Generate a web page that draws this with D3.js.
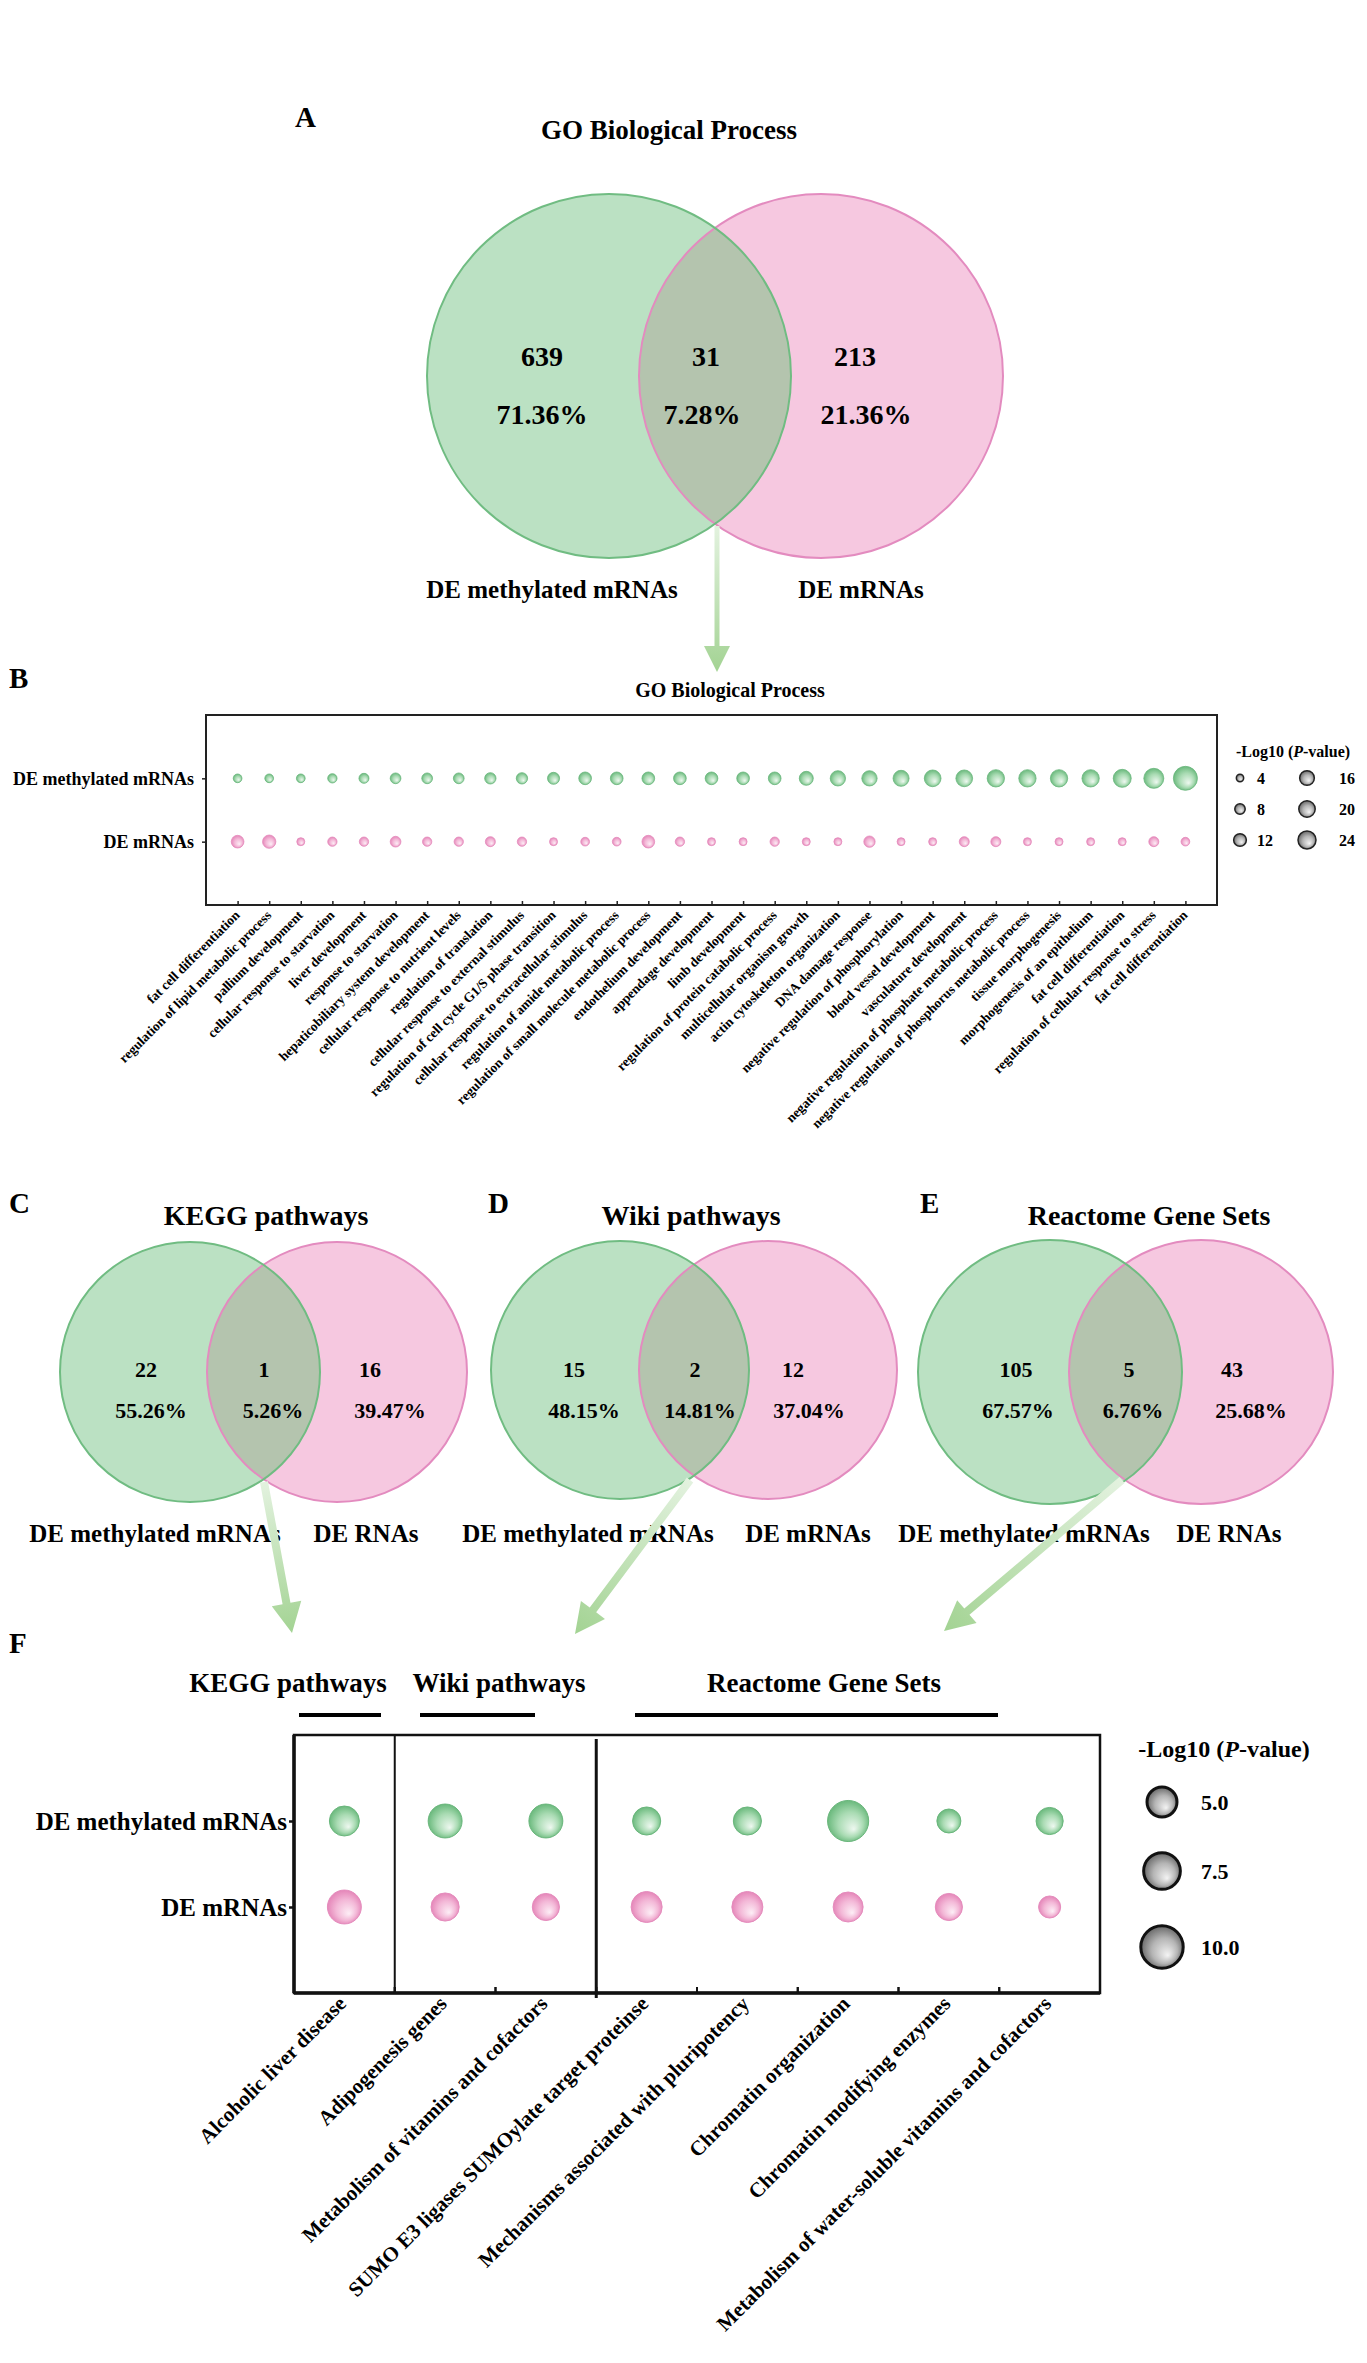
<!DOCTYPE html>
<html>
<head>
<meta charset="utf-8">
<script src="https://cdn.jsdelivr.net/npm/d3@7"></script>
<style>
  body { margin: 0; background: #fff; }
  svg text { font-family: "Liberation Serif", "Times New Roman", serif; font-weight: bold; fill: #000; }
</style>
</head>
<body>
<svg id="chart" width="1367" height="2363"></svg>
<script>
// ---------- data ----------
const rowNames = ["DE methylated mRNAs", "DE mRNAs"];

// Venn counts / percentages (left only, overlap, right only)
const goCounts = [639, 31, 213];
const goPcts = ["71.36%", "7.28%", "21.36%"];
const keggCounts = [22, 1, 16];
const keggPcts = ["55.26%", "5.26%", "39.47%"];
const wikiCounts = [15, 2, 12];
const wikiPcts = ["48.15%", "14.81%", "37.04%"];
const reactomeCounts = [105, 5, 43];
const reactomePcts = ["67.57%", "6.76%", "25.68%"];

// Panel B: 31 shared GO terms, -log10(P) for each row
const goTerms = [
  "fat cell differentiation", "regulation of lipid metabolic process", "pallium development",
  "cellular response to starvation", "liver development", "response to starvation",
  "hepaticobiliary system development", "cellular response to nutrient levels", "regulation of translation",
  "cellular response to external stimulus", "regulation of cell cycle G1/S phase transition",
  "cellular response to extracellular stimulus", "regulation of amide metabolic process",
  "regulation of small molecule metabolic process", "endothelium development", "appendage development",
  "limb development", "regulation of protein catabolic process", "multicellular organism growth",
  "actin cytoskeleton organization", "DNA damage response", "negative regulation of phosphorylation",
  "blood vessel development", "vasculature development", "negative regulation of phosphate metabolic process",
  "negative regulation of phosphorus metabolic process", "tissue morphogenesis", "morphogenesis of an epithelium",
  "fat cell differentiation", "regulation of cellular response to stress", "fat cell differentiation"
];
const goMethyl = [5.6, 5.6, 5.6, 6.4, 7.4, 8.5, 8.5, 8.5, 9.5, 9.5, 10.7, 11.9, 11.9, 11.9, 11.9, 11.9,
  11.9, 11.9, 14.5, 17.3, 17.3, 19.0, 20.7, 20.7, 22.2, 22.2, 22.2, 22.2, 24.0, 29.6, 42.7];
const goMrna = [11.9, 13.1, 4.7, 6.4, 6.4, 8.5, 6.4, 6.4, 7.4, 6.4, 4.7, 5.6, 5.6, 11.9, 6.4, 4.7,
  4.7, 6.4, 4.7, 4.7, 9.5, 4.7, 4.7, 7.4, 7.4, 4.7, 4.7, 4.7, 4.7, 7.4, 5.6];
const goLegendTicks = [4, 8, 12, 16, 20, 24];

// Panel F: shared pathways
const fGroups = ["KEGG pathways", "Wiki pathways", "Reactome Gene Sets"];
const fGroupSizes = [1, 2, 5];
const fTerms = [
  "Alcoholic liver disease", "Adipogenesis genes", "Metabolism of vitamins and cofactors",
  "SUMO E3 ligases SUMOylate target proteinse", "Mechanisms associated with pluripotency",
  "Chromatin organization", "Chromatin modifying enzymes",
  "Metabolism of water-soluble vitamins and cofactors"
];
const fMethyl = [5.0, 6.4, 6.4, 4.4, 4.4, 9.4, 3.2, 4.1];
const fMrna = [6.4, 4.4, 4.1, 5.35, 5.35, 5.0, 4.1, 2.7];
const fLegendTicks = [5.0, 7.5, 10.0];

// ---------- setup ----------
const svg = d3.select("#chart");
svg.append("rect").attr("width", 1367).attr("height", 2363).attr("fill", "#fff");
const defs = svg.append("defs");

function radial(id, c0, c1, c2) {
  const g = defs.append("radialGradient").attr("id", id)
    .attr("cx", 0.5).attr("cy", 0.5).attr("r", 0.55)
    .attr("fx", 0.64).attr("fy", 0.7);
  g.append("stop").attr("offset", "0%").attr("stop-color", c0);
  g.append("stop").attr("offset", "55%").attr("stop-color", c1);
  g.append("stop").attr("offset", "100%").attr("stop-color", c2);
}
radial("gGreen", "#eef8f0", "#a9dbb3", "#5fb373");
radial("gPink", "#fdeef6", "#f3b8d7", "#e27db3");
radial("gGray", "#f4f4f4", "#b4b4b4", "#5a5a5a");

const colors = {
  green: "#bbe1c3", pink: "#f6c8e0", both: "#b4c4ae",
  greenLine: "#70bc82", pinkLine: "#e38bbf"
};

// ---------- Venn diagrams ----------
function drawVenn(c) {
  const g = svg.append("g");
  const clipId = "clip-" + c.id;
  defs.append("clipPath").attr("id", clipId)
    .append("circle").attr("cx", c.cx1).attr("cy", c.cy).attr("r", c.r);

  g.append("circle").attr("cx", c.cx1).attr("cy", c.cy).attr("r", c.r).attr("fill", colors.green);
  g.append("circle").attr("cx", c.cx2).attr("cy", c.cy).attr("r", c.r).attr("fill", colors.pink);
  // overlap
  g.append("circle").attr("cx", c.cx2).attr("cy", c.cy).attr("r", c.r)
    .attr("fill", colors.both).attr("clip-path", `url(#${clipId})`);
  g.append("circle").attr("cx", c.cx2).attr("cy", c.cy).attr("r", c.r)
    .attr("fill", "none").attr("stroke", colors.pinkLine).attr("stroke-width", 2);
  g.append("circle").attr("cx", c.cx1).attr("cy", c.cy).attr("r", c.r)
    .attr("fill", "none").attr("stroke", colors.greenLine).attr("stroke-width", 2);

  g.append("text").attr("x", c.titleX).attr("y", c.titleY).attr("text-anchor", "middle")
    .style("font-size", c.titleFs + "px").text(c.title);
  g.append("text").attr("x", c.letterX).attr("y", c.titleY - 12)
    .style("font-size", "29px").text(c.letter);

  c.counts.forEach((d, i) => {
    g.append("text").attr("x", c.numX[i]).attr("y", c.numY).attr("text-anchor", "middle")
      .style("font-size", c.fs + "px").text(d);
    g.append("text").attr("x", c.pctX[i]).attr("y", c.pctY).attr("text-anchor", "middle")
      .style("font-size", c.fs + "px").text(c.pcts[i]);
  });
  c.labels.forEach((d, i) => {
    g.append("text").attr("x", c.labelX[i]).attr("y", c.labelY).attr("text-anchor", "middle")
      .style("font-size", c.labelFs + "px").text(d);
  });
}

drawVenn({
  id: "go", cx1: 609, cx2: 821, cy: 376, r: 182,
  title: "GO Biological Process", titleX: 669, titleY: 139, titleFs: 27, letter: "A", letterX: 295,
  counts: goCounts, pcts: goPcts, fs: 28,
  numX: [542, 706, 855], numY: 366, pctX: [542, 702, 866], pctY: 424,
  labels: rowNames, labelX: [552, 861], labelY: 598, labelFs: 25
});
drawVenn({
  id: "kegg", cx1: 190, cx2: 337, cy: 1372, r: 130,
  title: "KEGG pathways", titleX: 266, titleY: 1225, titleFs: 28, letter: "C", letterX: 9,
  counts: keggCounts, pcts: keggPcts, fs: 22,
  numX: [146, 264, 370], numY: 1377, pctX: [151, 273, 390], pctY: 1418,
  labels: ["DE methylated mRNAs", "DE RNAs"], labelX: [155, 366], labelY: 1542, labelFs: 25
});
drawVenn({
  id: "wiki", cx1: 620, cx2: 768, cy: 1370, r: 129,
  title: "Wiki pathways", titleX: 691, titleY: 1225, titleFs: 28, letter: "D", letterX: 488,
  counts: wikiCounts, pcts: wikiPcts, fs: 22,
  numX: [574, 695, 793], numY: 1377, pctX: [584, 700, 809], pctY: 1418,
  labels: ["DE methylated mRNAs", "DE mRNAs"], labelX: [588, 808], labelY: 1542, labelFs: 25
});
drawVenn({
  id: "reac", cx1: 1050, cx2: 1201, cy: 1372, r: 132,
  title: "Reactome Gene Sets", titleX: 1149, titleY: 1225, titleFs: 28, letter: "E", letterX: 920,
  counts: reactomeCounts, pcts: reactomePcts, fs: 22,
  numX: [1016, 1129, 1232], numY: 1377, pctX: [1018, 1133, 1251], pctY: 1418,
  labels: ["DE methylated mRNAs", "DE RNAs"], labelX: [1024, 1229], labelY: 1542, labelFs: 25
});

// ---------- arrows ----------
function arrow(id, x1, y1, x2, y2, w, headLen, headW) {
  const grad = defs.append("linearGradient").attr("id", id)
    .attr("gradientUnits", "userSpaceOnUse")
    .attr("x1", x1).attr("y1", y1).attr("x2", x2).attr("y2", y2);
  grad.append("stop").attr("offset", "0%").attr("stop-color", "#e3f2df");
  grad.append("stop").attr("offset", "100%").attr("stop-color", "#a3d393");
  const len = Math.hypot(x2 - x1, y2 - y1);
  const ux = (x2 - x1) / len, uy = (y2 - y1) / len;
  const px = -uy, py = ux;
  const bx = x2 - ux * headLen, by = y2 - uy * headLen;
  const pts = [
    [x1 + px * w / 2, y1 + py * w / 2], [bx + px * w / 2, by + py * w / 2],
    [bx + px * headW, by + py * headW], [x2, y2],
    [bx - px * headW, by - py * headW], [bx - px * w / 2, by - py * w / 2],
    [x1 - px * w / 2, y1 - py * w / 2]
  ];
  svg.append("path").attr("d", d3.line()(pts) + "Z").attr("fill", `url(#${id})`);
}
arrow("arA", 717, 526, 717, 672, 5, 26, 13);
arrow("arC", 264, 1482, 292, 1633, 8, 30, 15);
arrow("arD", 690, 1480, 575, 1634, 8, 30, 15);
arrow("arE", 1122, 1480, 944, 1631, 8, 30, 15);

// ---------- Panel B: GO bubble plot ----------
const bLeft = 206, bRight = 1217, bTop = 715, bBottom = 905;
const xB = d3.scalePoint().domain(d3.range(goTerms.length)).range([bLeft, bRight]).padding(1);
const yB = d3.scalePoint().domain(rowNames).range([bTop, bBottom]).padding(1);
const rB = d3.scaleSqrt().domain([0, 24]).range([0, 9]);

svg.append("text").attr("x", 9).attr("y", 688).style("font-size", "29px").text("B");
svg.append("text").attr("x", 730).attr("y", 697).attr("text-anchor", "middle")
  .style("font-size", "20px").text("GO Biological Process");

svg.append("rect").attr("x", bLeft).attr("y", bTop)
  .attr("width", bRight - bLeft).attr("height", bBottom - bTop)
  .attr("fill", "none").attr("stroke", "#222").attr("stroke-width", 2);

const bxAxis = svg.append("g").attr("transform", `translate(0,${bBottom})`)
  .call(d3.axisBottom(xB).tickSize(-4).tickFormat(""));
bxAxis.select(".domain").remove();
bxAxis.selectAll("line").attr("stroke", "#222").attr("stroke-width", 1.5);

const byAxis = svg.append("g").attr("transform", `translate(${bLeft},0)`)
  .call(d3.axisLeft(yB).tickSize(4).tickFormat(""));
byAxis.select(".domain").remove();
byAxis.selectAll("line").attr("stroke", "#222").attr("stroke-width", 1.5);

svg.append("g").selectAll("text").data(rowNames).join("text")
  .attr("x", bLeft - 12).attr("y", d => yB(d)).attr("dy", "0.35em")
  .attr("text-anchor", "end").style("font-size", "18px").text(d => d);

svg.append("g").selectAll("text").data(goTerms).join("text")
  .attr("transform", (d, i) => `translate(${xB(i) + 3},${bBottom + 11}) rotate(-45)`)
  .attr("text-anchor", "end").style("font-size", "13.5px").text(d => d);

const bRows = [
  { row: rowNames[0], vals: goMethyl, fill: "url(#gGreen)", stroke: "#6ab67c" },
  { row: rowNames[1], vals: goMrna, fill: "url(#gPink)", stroke: "#e58cbd" }
];
bRows.forEach(s => {
  svg.append("g").selectAll("circle").data(s.vals).join("circle")
    .attr("cx", (d, i) => xB(i)).attr("cy", yB(s.row)).attr("r", d => rB(d))
    .attr("fill", s.fill).attr("stroke", s.stroke).attr("stroke-width", 0.8);
});

// legend B
const lgB = svg.append("g");
const titleB = lgB.append("text").attr("x", 1293).attr("y", 757).attr("text-anchor", "middle")
  .style("font-size", "16px");
titleB.append("tspan").text("-Log10 (");
titleB.append("tspan").style("font-style", "italic").text("P");
titleB.append("tspan").text("-value)");
goLegendTicks.forEach((v, i) => {
  const col = Math.floor(i / 3), row = i % 3;
  const cx = [1240, 1307][col], cy = [778, 809, 840][row];
  lgB.append("circle").attr("cx", cx).attr("cy", cy).attr("r", rB(v))
    .attr("fill", "url(#gGray)").attr("stroke", "#222").attr("stroke-width", 1.5);
  lgB.append("text").attr("x", [1257, 1339][col]).attr("y", cy).attr("dy", "0.35em")
    .style("font-size", "16px").text(v);
});

// ---------- Panel F: pathway bubble plot ----------
const fLeft = 294, fRight = 1100, fTop = 1735, fBottom = 1993;
const xF = d3.scaleBand().domain(fTerms).range([fLeft, fRight]);
const yF = d3.scalePoint().domain(rowNames).range([fTop, fBottom]).padding(1);
const rF = d3.scaleSqrt().domain([0, 10]).range([0, 21.2]);
const bw = xF.bandwidth();

svg.append("text").attr("x", 9).attr("y", 1653).style("font-size", "29px").text("F");

// group titles and underlines
const fGroupLayout = [
  { tx: 288, x0: 299, x1: 381 },
  { tx: 499, x0: 420, x1: 535 },
  { tx: 824, x0: 635, x1: 998 }
];
fGroups.forEach((d, i) => {
  const L = fGroupLayout[i];
  svg.append("text").attr("x", L.tx).attr("y", 1692).attr("text-anchor", "middle")
    .style("font-size", "27px").text(d);
  svg.append("line").attr("x1", L.x0).attr("x2", L.x1).attr("y1", 1715).attr("y2", 1715)
    .attr("stroke", "#000").attr("stroke-width", 4);
});

svg.append("rect").attr("x", fLeft).attr("y", fTop)
  .attr("width", fRight - fLeft).attr("height", fBottom - fTop)
  .attr("fill", "none").attr("stroke", "#111").attr("stroke-width", 2.5);
svg.append("line").attr("x1", fLeft).attr("x2", fLeft).attr("y1", fTop).attr("y2", fBottom)
  .attr("stroke", "#111").attr("stroke-width", 3.5);
svg.append("line").attr("x1", fLeft).attr("x2", fRight).attr("y1", fBottom).attr("y2", fBottom)
  .attr("stroke", "#111").attr("stroke-width", 3.5);

// group separators
let acc = 0;
fGroupSizes.slice(0, -1).forEach((n, i) => {
  acc += n;
  const x = xF(fTerms[acc]);
  svg.append("line").attr("x1", x).attr("x2", x)
    .attr("y1", fTop + (i ? 4 : 0)).attr("y2", fBottom + (i ? 5 : 0))
    .attr("stroke", "#111").attr("stroke-width", i ? 3 : 2);
});

const fxAxis = svg.append("g").attr("transform", `translate(${bw / 2},${fBottom})`)
  .call(d3.axisBottom(xF).tickSize(-6).tickFormat(""));
fxAxis.select(".domain").remove();
fxAxis.selectAll("line").attr("stroke", "#111").attr("stroke-width", 2);
// minor ticks at band edges
svg.append("g").selectAll("line").data(fTerms.slice(1)).join("line")
  .attr("x1", d => xF(d)).attr("x2", d => xF(d))
  .attr("y1", fBottom).attr("y2", fBottom - 6)
  .attr("stroke", "#111").attr("stroke-width", 2);

const fyAxis = svg.append("g").attr("transform", `translate(${fLeft},0)`)
  .call(d3.axisLeft(yF).tickSize(5).tickFormat(""));
fyAxis.select(".domain").remove();
fyAxis.selectAll("line").attr("stroke", "#111").attr("stroke-width", 2.5);

svg.append("g").selectAll("text").data(rowNames).join("text")
  .attr("x", fLeft - 7).attr("y", d => yF(d)).attr("dy", "0.35em")
  .attr("text-anchor", "end").style("font-size", "25px").text(d => d);

svg.append("g").selectAll("text").data(fTerms).join("text")
  .attr("transform", d => `translate(${xF(d) + bw / 2 + 3},${fBottom + 12}) rotate(-45)`)
  .attr("text-anchor", "end").style("font-size", "21px").text(d => d);

const fRows = [
  { row: rowNames[0], vals: fMethyl, fill: "url(#gGreen)", stroke: "#6ab67c" },
  { row: rowNames[1], vals: fMrna, fill: "url(#gPink)", stroke: "#e58cbd" }
];
fRows.forEach(s => {
  svg.append("g").selectAll("circle").data(s.vals).join("circle")
    .attr("cx", (d, i) => xF(fTerms[i]) + bw / 2).attr("cy", yF(s.row)).attr("r", d => rF(d))
    .attr("fill", s.fill).attr("stroke", s.stroke).attr("stroke-width", 1);
});

// legend F
const lgF = svg.append("g");
const titleF = lgF.append("text").attr("x", 1224).attr("y", 1757).attr("text-anchor", "middle")
  .style("font-size", "24px");
titleF.append("tspan").text("-Log10 (");
titleF.append("tspan").style("font-style", "italic").text("P");
titleF.append("tspan").text("-value)");
const lgFy = [1802, 1871, 1947];
fLegendTicks.forEach((v, i) => {
  lgF.append("circle").attr("cx", 1162).attr("cy", lgFy[i]).attr("r", rF(v))
    .attr("fill", "url(#gGray)").attr("stroke", "#111").attr("stroke-width", 3);
  lgF.append("text").attr("x", 1201).attr("y", lgFy[i]).attr("dy", "0.35em")
    .style("font-size", "22px").text(d3.format(".1f")(v));
});
</script>
</body>
</html>
